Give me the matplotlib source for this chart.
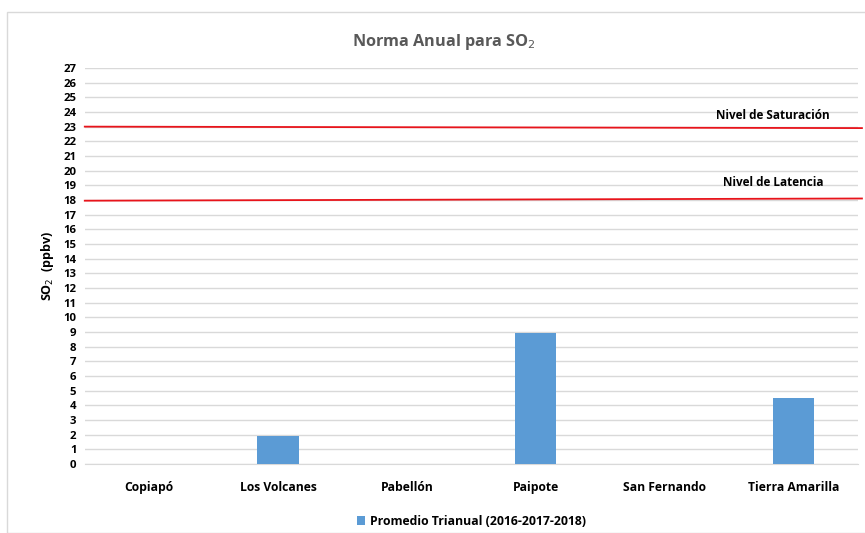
import matplotlib.pyplot as plt
from matplotlib.patches import Rectangle

estaciones = ["Copiapó", "Los Volcanes", "Pabellón", "Paipote", "San Fernando", "Tierra Amarilla"]
promedio = [0, 1.9, 0, 8.95, 0, 4.5]
saturacion = [23.0, 22.9]
latencia = [17.95, 18.1]
yticks = list(range(0, 28))

plt.rcParams['font.family'] = ['Open Sans', 'DejaVu Sans']

fig = plt.figure(figsize=(8.65, 5.33), dpi=100)
fig.patches.append(Rectangle((0.008, 0.0), 1.0, 0.978, transform=fig.transFigure,
                             fill=False, edgecolor='#d9d9d9', linewidth=1))
ax = fig.add_axes([0.098, 0.1295, 0.894, 0.743])

x = list(range(len(estaciones)))
ax.bar(x, promedio, width=0.32, color='#5b9bd5', label='Promedio Trianual (2016-2017-2018)', zorder=3)

ax.set_xlim(-0.5, len(estaciones) - 0.5)
ax.plot([-0.5, len(estaciones) - 0.47], saturacion, color='#e8141b', linewidth=1.3, zorder=4, clip_on=False)
ax.plot([-0.5, len(estaciones) - 0.47], latencia, color='#e8141b', linewidth=1.3, zorder=4, clip_on=False)
ax.text(4.84, 23.3, 'Nivel de Saturación', fontsize=8.5, fontweight='bold', ha='center', va='bottom')
ax.text(4.84, 18.75, 'Nivel de Latencia', fontsize=8.5, fontweight='bold', ha='center', va='bottom')

ax.set_ylim(0, 27)
ax.set_yticks(yticks)
ax.set_xticks(x)
ax.set_xticklabels(estaciones, fontsize=8.7, fontweight='bold')
for t in ax.get_yticklabels():
    t.set_fontsize(8.2)
    t.set_fontweight('bold')
ax.tick_params(length=0, pad=6)
ax.tick_params(axis='x', pad=12)
ax.grid(axis='y', color='#d9d9d9', linewidth=1, zorder=0)
for s in ['top', 'right', 'left']:
    ax.spines[s].set_visible(False)
ax.spines['bottom'].set_color('#d9d9d9')

ax.set_ylabel('SO$_2$  (ppbv)', fontsize=9, fontweight='bold', labelpad=5)
fig.text(0.513, 0.922, 'Norma Anual para SO$_2$', fontsize=11.7, fontweight='bold',
         color='#595959', ha='center', va='center')
ax.legend(loc='upper center', bbox_to_anchor=(0.5, -0.1), frameon=False,
          prop={'size': 8.8, 'weight': 'bold'}, handlelength=0.7, handleheight=0.7, handletextpad=0.4)

fig.savefig('out.png', dpi=100)
